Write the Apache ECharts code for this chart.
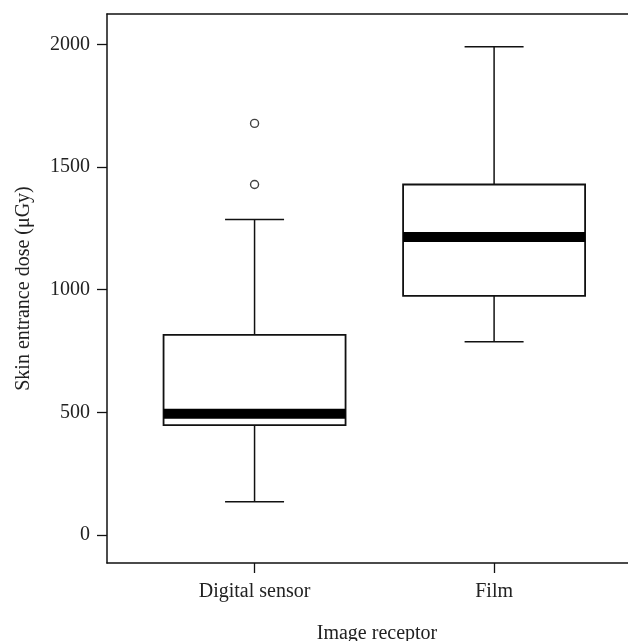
<!DOCTYPE html>
<html>
<head>
<meta charset="utf-8">
<script src="https://cdn.jsdelivr.net/npm/echarts@6/dist/echarts.min.js"></script>
<style>
html,body{margin:0;padding:0;background:#fff;}
#chart{width:628px;height:641px;}
</style>
</head>
<body>
<div id="chart"></div>
<script>
// Data
var categories = ['Digital sensor', 'Film'];
var lowWhisker = [136, 788];
var q1 = [448, 975];
var medians = [494, 1215];
var q3 = [816, 1429];
var highWhisker = [1286, 1990];
var outlierCategory = [0, 0];
var outlierValues = [1429, 1678];
var yTicks = [0, 500, 1000, 1500, 2000];

// Style constants
var FONT = 'Liberation Serif';
var FS = 20;
var INK = '#111';
var BOX_W = 182;
var CAP_W = 59;
var MED_H = 10;

var boxData = categories.map(function (c, i) {
  return [i + 1, lowWhisker[i], q1[i], medians[i], q3[i], highWhisker[i]];
});
var outlierData = outlierValues.map(function (v, i) {
  return [outlierCategory[i] + 1, v];
});
var catPositions = categories.map(function (c, i) { return i + 1; });

var chart = echarts.init(document.getElementById('chart'), null, {renderer: 'canvas'});
chart.setOption({
  animation: false,
  backgroundColor: '#fff',
  grid: {
    left: 107, right: 0, top: 14, bottom: 78,
    outerBoundsMode: 'none',
    containLabel: false,
    show: false
  },
  xAxis: [{
    type: 'value',
    min: 0.384, max: 2.559,
    name: 'Image receptor',
    nameLocation: 'middle',
    nameGap: 61,
    nameTextStyle: {fontFamily: FONT, fontSize: FS, color: '#222', padding: [0, 0, 0, 19]},
    axisLine: {show: true, onZero: false, lineStyle: {color: INK, width: 1.5}},
    axisTick: {show: true, length: 10, lineStyle: {color: INK, width: 1.3}, customValues: catPositions},
    axisLabel: {
      show: true, margin: 19, fontFamily: FONT, fontSize: FS, color: '#222',
      customValues: catPositions,
      formatter: function (v) { return categories[Math.round(v) - 1] || ''; }
    },
    splitLine: {show: false}
  }, {
    type: 'value',
    position: 'top',
    min: 0.384, max: 2.559,
    axisLine: {show: true, onZero: false, lineStyle: {color: INK, width: 1.5}},
    axisTick: {show: false},
    axisLabel: {show: false},
    splitLine: {show: false}
  }],
  yAxis: {
    type: 'value',
    min: -114, max: 2124,
    name: 'Skin entrance dose (\u03bcGy)',
    nameLocation: 'middle',
    nameGap: 73,
    nameRotate: 90,
    nameTextStyle: {fontFamily: FONT, fontSize: FS, color: '#222'},
    axisLine: {show: true, onZero: false, lineStyle: {color: INK, width: 1.5}},
    axisTick: {show: true, length: 10, lineStyle: {color: INK, width: 1.3}, customValues: yTicks},
    axisLabel: {
      show: true, margin: 17, fontFamily: FONT, fontSize: FS, color: '#222', customValues: yTicks,
      formatter: function (v) { return String(v); }
    },
    splitLine: {show: false}
  },
  series: [
    {
      type: 'custom',
      data: boxData,
      encode: {x: 0, y: [1, 2, 3, 4, 5]},
      renderItem: function (params, api) {
        var x = api.value(0);
        var pLow = api.coord([x, api.value(1)]);
        var pQ1 = api.coord([x, api.value(2)]);
        var pMed = api.coord([x, api.value(3)]);
        var pQ3 = api.coord([x, api.value(4)]);
        var pHigh = api.coord([x, api.value(5)]);
        var cx = pLow[0];
        var hw = BOX_W / 2, cw = CAP_W / 2;
        var ls = {stroke: INK, lineWidth: 1.5};
        return {
          type: 'group',
          children: [
            {type: 'line', shape: {x1: cx, y1: pHigh[1], x2: cx, y2: pQ3[1]}, style: ls},
            {type: 'line', shape: {x1: cx, y1: pLow[1], x2: cx, y2: pQ1[1]}, style: ls},
            {type: 'line', shape: {x1: cx - cw, y1: pHigh[1], x2: cx + cw, y2: pHigh[1]}, style: ls},
            {type: 'line', shape: {x1: cx - cw, y1: pLow[1], x2: cx + cw, y2: pLow[1]}, style: ls},
            {type: 'rect', shape: {x: cx - hw, y: pQ3[1], width: BOX_W, height: pQ1[1] - pQ3[1]},
              style: {fill: '#fff', stroke: INK, lineWidth: 1.8}},
            {type: 'rect', shape: {x: cx - hw, y: pMed[1] - MED_H / 2, width: BOX_W, height: MED_H},
              style: {fill: '#000'}}
          ]
        };
      }
    },
    {
      type: 'scatter',
      data: outlierData,
      symbol: 'circle',
      symbolSize: 8,
      itemStyle: {color: '#fff', borderColor: INK, borderWidth: 1.4}
    }
  ]
});
</script>
</body>
</html>
